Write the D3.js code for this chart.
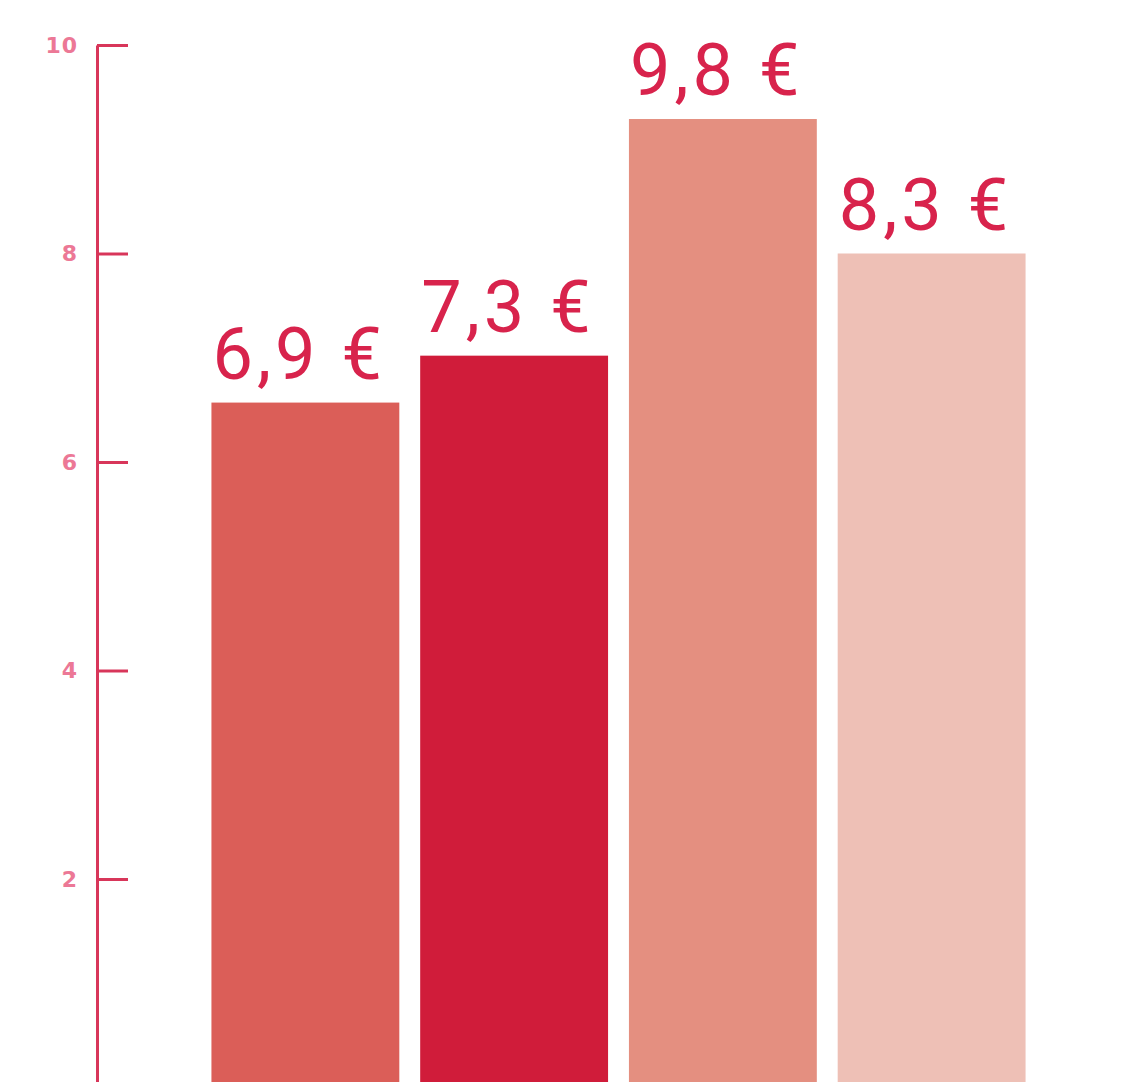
<!DOCTYPE html>
<html>
<head>
<meta charset="utf-8">
<script src="https://cdn.jsdelivr.net/npm/d3@7"></script>
<style>
  html, body { margin: 0; padding: 0; background: #ffffff; }
  svg { display: block; }
</style>
</head>
<body>
<script>
// Data
const categories = ["A", "B", "C", "D"];
const barValues = [6.57, 7.02, 9.29, 8.0];          // bar heights as drawn
const valueLabels = ["6,9 €", "7,3 €", "9,8 €", "8,3 €"];
const barColors = ["#db5e58", "#d01c3a", "#e48f80", "#eec0b6"];
const tickValues = [2, 4, 6, 8, 10];

const W = 1124, H = 1082;
const svg = d3.select("body").append("svg").attr("width", W).attr("height", H);

const y = d3.scaleLinear().domain([0, 10]).range([1087.5, 45]);
const x = d3.scaleBand().domain(categories).range([201, 1036]).paddingInner(0.1).paddingOuter(0.05);

// Bars
svg.append("g").selectAll("rect")
  .data(categories)
  .join("rect")
  .attr("x", d => x(d))
  .attr("width", x.bandwidth())
  .attr("y", (d, i) => y(barValues[i]))
  .attr("height", (d, i) => y(0) - y(barValues[i]))
  .attr("fill", (d, i) => barColors[i]);

// Value labels
svg.append("g").selectAll("text")
  .data(categories)
  .join("text")
  .attr("x", d => x(d) + 1)
  .attr("y", (d, i) => y(barValues[i]) - 24)
  .attr("font-family", "Roboto, 'Liberation Sans', sans-serif")
  .attr("font-size", 72)
  .attr("font-weight", 400)
  .attr("letter-spacing", 4)
  .attr("fill", "#d8234c")
  .text((d, i) => valueLabels[i]);

// Y axis
const axis = d3.axisLeft(y)
  .tickValues(tickValues)
  .tickSize(-31)
  .tickSizeOuter(0)
  .tickPadding(19)
  .tickFormat(d3.format("d"));

const gAxis = svg.append("g").attr("transform", "translate(97,0)").call(axis);
gAxis.select(".domain").attr("stroke", "#d8365a").attr("stroke-width", 3);
gAxis.selectAll(".tick line").attr("stroke", "#d8365a").attr("stroke-width", 3);
gAxis.selectAll(".tick text")
  .attr("fill", "#ec7896")
  .attr("font-family", "'DejaVu Sans', sans-serif")
  .attr("font-weight", "bold")
  .attr("font-size", 22)
  .attr("letter-spacing", 1);
</script>
</body>
</html>
